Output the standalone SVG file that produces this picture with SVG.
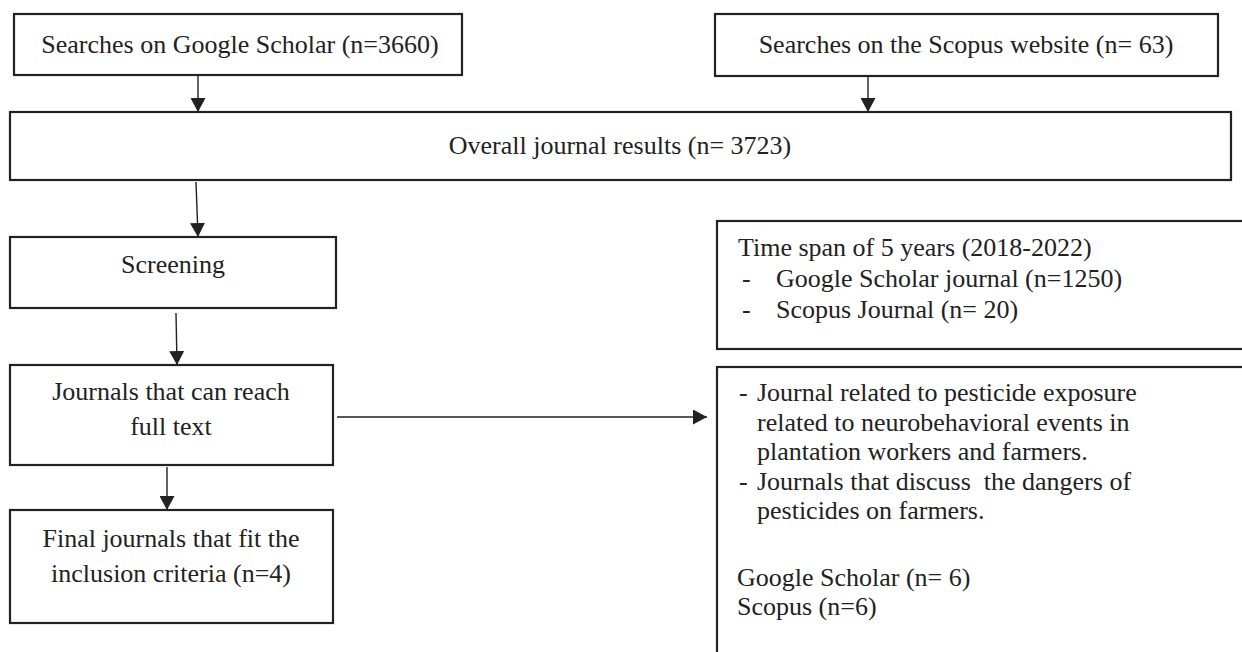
<svg xmlns="http://www.w3.org/2000/svg" width="1242" height="652" viewBox="0 0 1242 652">
<style>
.box{fill:#fff;stroke:#222;stroke-width:2.2}
.t{font-family:"Liberation Serif","Times New Roman",serif;font-size:26px;fill:#222}
.c{text-anchor:middle}
.ln{stroke:#222;stroke-width:1.4;fill:none}
</style>
<defs>
<marker id="ah" markerUnits="userSpaceOnUse" markerWidth="15" markerHeight="15" refX="14" refY="7.5" orient="auto">
<path d="M0,0 L14,7.5 L0,15 z" fill="#222"/>
</marker>
</defs>
<rect width="1242" height="652" fill="#fff"/>
<g id="connectors">
<line class="ln" x1="198" y1="75" x2="198" y2="112" marker-end="url(#ah)"/>
<line class="ln" x1="868" y1="77" x2="868" y2="112" marker-end="url(#ah)"/>
<line class="ln" x1="196" y1="182" x2="198" y2="237" marker-end="url(#ah)"/>
<line class="ln" x1="176" y1="313" x2="177" y2="365" marker-end="url(#ah)"/>
<line class="ln" x1="167" y1="467" x2="167" y2="510" marker-end="url(#ah)"/>
<line class="ln" x1="337" y1="417" x2="707" y2="417" marker-end="url(#ah)"/>
</g>
<g id="google">
<rect class="box" x="14" y="14" width="448" height="61"/>
<text class="t c" x="240" y="53">Searches on Google Scholar (n=3660)</text>
</g>
<g id="scopus">
<rect class="box" x="715" y="14" width="503" height="62"/>
<text class="t c" x="966" y="53">Searches on the Scopus website (n= 63)</text>
</g>
<g id="overall">
<rect class="box" x="10" y="112" width="1221" height="68"/>
<text class="t c" x="620" y="154">Overall journal results (n= 3723)</text>
</g>
<g id="screening">
<rect class="box" x="10" y="237" width="326" height="71"/>
<text class="t c" x="173" y="273">Screening</text>
</g>
<g id="fulltext">
<rect class="box" x="10" y="365" width="323" height="100"/>
<text class="t c" x="171" y="400">Journals that can reach</text>
<text class="t c" x="171" y="435">full text</text>
</g>
<g id="final">
<rect class="box" x="10" y="510" width="323" height="113"/>
<text class="t c" x="171" y="547">Final journals that fit the</text>
<text class="t c" x="171" y="582">inclusion criteria (n=4)</text>
</g>
<g id="timespan">
<rect class="box" x="717" y="221" width="540" height="128"/>
<text class="t" x="738" y="256">Time span of 5 years (2018-2022)</text>
<text class="t" x="742" y="287">-</text>
<text class="t" x="776" y="287">Google Scholar journal (n=1250)</text>
<text class="t" x="742" y="318">-</text>
<text class="t" x="776" y="318">Scopus Journal (n= 20)</text>
</g>
<g id="criteria">
<rect class="box" x="717" y="367" width="540" height="300"/>
<text class="t" x="739" y="401">-</text>
<text class="t" x="757" y="401">Journal related to pesticide exposure</text>
<text class="t" x="757" y="431">related to neurobehavioral events in</text>
<text class="t" x="757" y="460">plantation workers and farmers.</text>
<text class="t" x="739" y="490">-</text>
<text class="t" x="757" y="490" xml:space="preserve">Journals that discuss  the dangers of</text>
<text class="t" x="757" y="519">pesticides on farmers.</text>
<text class="t" x="737" y="586">Google Scholar (n= 6)</text>
<text class="t" x="737" y="615">Scopus (n=6)</text>
</g>
</svg>
